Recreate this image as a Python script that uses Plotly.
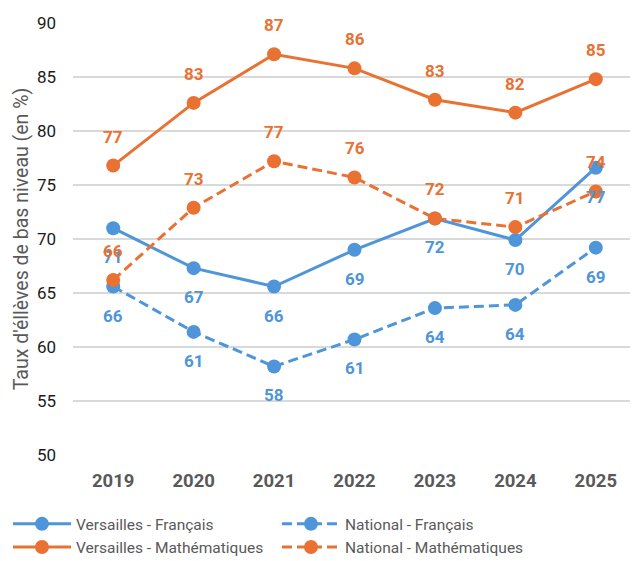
import plotly.graph_objects as go

years = ["2019", "2020", "2021", "2022", "2023", "2024", "2025"]
versailles_fr = [71.0, 67.3, 65.6, 69.0, 71.9, 69.9, 76.6]
national_fr = [65.6, 61.4, 58.2, 60.7, 63.6, 63.9, 69.2]
versailles_math = [76.8, 82.6, 87.1, 85.8, 82.9, 81.7, 84.8]
national_math = [66.2, 72.9, 77.2, 75.7, 71.9, 71.1, 74.4]

BLUE = "#4E95D9"
ORANGE = "#E97132"
FONT = "Roboto"

series = [
    ("Versailles - Français", versailles_fr, BLUE, "solid", -1),
    ("National - Français", national_fr, BLUE, "10px,5px", -1),
    ("Versailles - Mathématiques", versailles_math, ORANGE, "solid", 1),
    ("National - Mathématiques", national_math, ORANGE, "10px,5px", 1),
]

fig = go.Figure()
for name, vals, col, dash, _ in series:
    fig.add_trace(go.Scatter(
        x=years, y=vals, name=name, mode="lines+markers",
        line=dict(color=col, width=3, dash=dash),
        marker=dict(color=col, size=14, symbol="circle"),
    ))

annotations = []
for name, vals, col, dash, side in series:
    for i, v in enumerate(vals):
        annotations.append(dict(
            x=i, y=v, xref="x", yref="y", text=f"{v:.0f}",
            showarrow=False, yshift=29 * side,
            font=dict(family=FONT, size=17, color=col, weight="bold"),
        ))

fig.update_layout(
    width=630, height=553,
    margin=dict(l=65, r=2, t=15, b=106, autoexpand=False),
    plot_bgcolor="white", paper_bgcolor="white",
    font=dict(family=FONT),
    annotations=annotations,
    showlegend=True,
    legend=dict(
        orientation="h", x=-0.1155, xanchor="left", y=-0.121, yanchor="top",
        entrywidth=196, entrywidthmode="pixels", itemwidth=58,
        font=dict(family=FONT, size=15.5, color="#595959"),
        traceorder="normal",
    ),
    xaxis=dict(
        type="category", categoryorder="array", categoryarray=years,
        range=[-0.5, len(years) - 0.5], automargin=False,
        showgrid=False, showline=False, zeroline=False,
        ticks="", ticklabelstandoff=12,
        tickfont=dict(family=FONT, size=18.5, color="#595959", weight="bold"),
    ),
    yaxis=dict(
        range=[50, 90], dtick=5, showgrid=True, gridcolor="#D9D9D9", gridwidth=1.5,
        zeroline=False, showline=False, ticks="", ticklabelstandoff=16,
        automargin=False,
        tickfont=dict(family=FONT, size=17, color="#1a1a1a"),
        title=dict(text="Taux d'éllèves de bas niveau (en %)", standoff=3,
                   font=dict(family=FONT, size=19.5, color="#595959")),
    ),
)

fig.write_html("out.html")
